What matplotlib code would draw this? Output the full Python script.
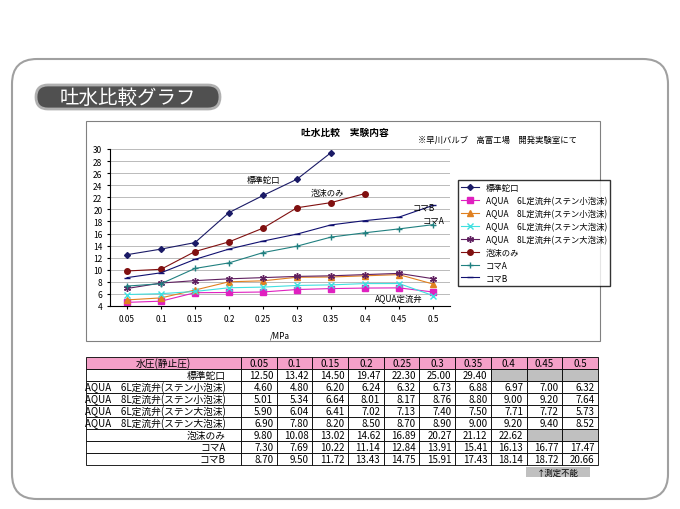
import matplotlib
matplotlib.use("Agg")
import matplotlib.pyplot as plt
from matplotlib.patches import FancyBboxPatch, Rectangle
import numpy as np

plt.rcParams["font.family"] = ["Noto Sans CJK JP"]

pressures = ["0.05", "0.1", "0.15", "0.2", "0.25", "0.3", "0.35", "0.4", "0.45", "0.5"]
series_names = ["標準蛇口", "AQUA　6L定流弁(ステン小泡沫)", "AQUA　8L定流弁(ステン小泡沫)",
                "AQUA　6L定流弁(ステン大泡沫)", "AQUA　8L定流弁(ステン大泡沫)", "泡沫のみ", "コマA", "コマB"]
hyojun = [12.50, 13.42, 14.50, 19.47, 22.30, 25.00, 29.40, None, None, None]
aqua6s = [4.60, 4.80, 6.20, 6.24, 6.32, 6.73, 6.88, 6.97, 7.00, 6.32]
aqua8s = [5.01, 5.34, 6.64, 8.01, 8.17, 8.76, 8.80, 9.00, 9.20, 7.64]
aqua6l = [5.90, 6.04, 6.41, 7.02, 7.13, 7.40, 7.50, 7.71, 7.72, 5.73]
aqua8l = [6.90, 7.80, 8.20, 8.50, 8.70, 8.90, 9.00, 9.20, 9.40, 8.52]
awa = [9.80, 10.08, 13.02, 14.62, 16.89, 20.27, 21.12, 22.62, None, None]
komaA = [7.30, 7.69, 10.22, 11.14, 12.84, 13.91, 15.41, 16.13, 16.77, 17.47]
komaB = [8.70, 9.50, 11.72, 13.43, 14.75, 15.91, 17.43, 18.14, 18.72, 20.66]
all_series = [hyojun, aqua6s, aqua8s, aqua6l, aqua8l, awa, komaA, komaB]

styles = [("#1a1a66", "D", 3), ("#e020c0", "s", 4), ("#e08020", "^", 4), ("#40e0e0", "x", 4),
          ("#602060", (6, 2, 0), 5), ("#801010", "o", 4), ("#208080", "+", 5), ("#101070", "_", 5)]

W, H = 680, 510
fig = plt.figure(figsize=(6.8, 5.1), dpi=100)
def fr(x0, y0, x1, y1):
    return [x0 / W, 1 - y1 / H, (x1 - x0) / W, (y1 - y0) / H]

bg = fig.add_axes([0, 0, 1, 1]); bg.set_xlim(0, W); bg.set_ylim(H, 0); bg.axis("off")
bg.add_patch(FancyBboxPatch((12, 60), 656, 440, boxstyle="round,pad=0,rounding_size=25",
                            fc="white", ec="#a0a0a0", lw=1.5))
bg.add_patch(FancyBboxPatch((36, 86), 184, 24, boxstyle="round,pad=0,rounding_size=12",
                            fc="#505050", ec="#b0b0b0", lw=2))
bg.text(128, 98, "吐水比較グラフ", color="white", fontsize=14, ha="center", va="center")
bg.add_patch(Rectangle((86, 122), 514, 220, fc="white", ec="#808080", lw=0.8))
bg.text(345, 133, "吐水比較　実験内容", fontsize=7, ha="center", va="center", weight="bold")
bg.text(497, 140, "※早川バルブ　高富工場　開発実験室にて", fontsize=6, ha="center", va="center")
bg.add_patch(Rectangle((526, 468), 64, 10, fc="#c0c0c0", ec="none"))
bg.text(558, 473, "↑測定不能", fontsize=6, ha="center", va="center")

ax = fig.add_axes(fr(110, 150, 450, 307))
x = np.arange(len(pressures))
for name, s, (c, m, ms) in zip(series_names, all_series, styles):
    y = np.array([np.nan if v is None else v for v in s])
    ax.plot(x, y, color=c, marker=m, ms=ms, lw=0.8, label=name, mew=1)
ax.set_xlim(-0.5, 9.5); ax.set_ylim(4, 30)
ax.set_yticks(range(4, 31, 2))
ax.set_xticks(x); ax.set_xticklabels(pressures)
ax.tick_params(labelsize=6, length=2)
ax.yaxis.grid(True, color="#b0b0b0", lw=0.6)
for sp in ["top", "right"]:
    ax.spines[sp].set_visible(False)
ax.set_xlabel("/MPa", fontsize=6, labelpad=6)
ax.text(4.5, 24.5, "標準蛇口", fontsize=6, ha="right")
ax.text(5.4, 22.3, "泡沫のみ", fontsize=6)
ax.text(8.4, 20.0, "コマB", fontsize=6)
ax.text(8.7, 17.8, "コマA", fontsize=6)
ax.text(7.3, 4.9, "AQUA定流弁", fontsize=6)
ax.legend(loc="upper left", bbox_to_anchor=(1.01, 0.83), fontsize=6, frameon=True,
          fancybox=False, edgecolor="black", borderpad=0.4, labelspacing=0.45, handlelength=2.2)

tax = fig.add_axes(fr(86, 358, 598, 466)); tax.axis("off")
rows = []
for name, s in zip(series_names, all_series):
    rows.append([name] + ["" if v is None else f"{v:.2f}" for v in s])
header = ["水圧(静止圧)"] + pressures
colw = [155 / 512] + [35.7 / 512] * 10
tbl = tax.table(cellText=rows, colLabels=header, colWidths=colw, loc="upper left",
                bbox=[0, 0, 1, 1], cellLoc="right")
tbl.auto_set_font_size(False); tbl.set_fontsize(7)
for (r, c), cell in tbl.get_celld().items():
    cell.set_linewidth(0.6)
    if r == 0:
        cell.set_facecolor("#f4a0c8")
        cell._loc = "center"
    if c == 0:
        cell._loc = "center"
    if r > 0 and c > 0 and rows[r - 1][c] == "":
        cell.set_facecolor("#c0c0c0")
fig.savefig("out.png", dpi=100)
